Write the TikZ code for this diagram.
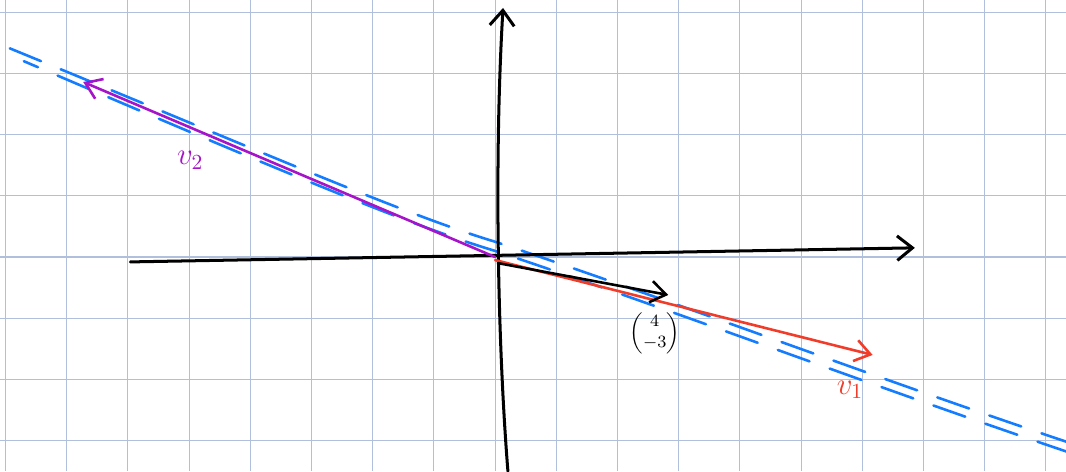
\documentclass[tikz,border=0pt]{standalone}
\usepackage{amsmath}
\usetikzlibrary{arrows.meta}

\definecolor{gridblue}{RGB}{176,192,220}
\definecolor{penblue}{RGB}{20,125,255}
\definecolor{penred}{RGB}{240,60,40}
\definecolor{penpurple}{RGB}{165,20,200}

\tikzset{
  gridline/.style={gridblue, line width=0.5pt},
  axisline/.style={black, line width=1.4pt, line cap=round, -{Straight Barb[length=2.5mm,width=4mm]}},
  vecline/.style={line width=1.2pt, line cap=round, -{Straight Barb[length=2.5mm,width=3.5mm]}},
  spanline/.style={penblue, line width=1.2pt, line cap=round, dash pattern=on 0.55cm off 0.35cm}
}

\begin{document}
\begin{tikzpicture}
    \useasboundingbox[fill=white] (-8.09,-3.5) rectangle (9.33,4.2);

    % Grid
    \draw[gridline] (-8.09,-3.5) grid (9.33,4.2);

    % Points
    \coordinate (O) at (0,0);
    \coordinate (xstart) at (-5.96,-0.08);
    \coordinate (xend) at (6.86,0.15);
    \coordinate (ystart) at (0.21,-3.5);
    \coordinate (yend) at (0.13,4.07);
    \coordinate (u) at (2.83,-0.62);
    \coordinate (v1) at (6.17,-1.6);
    \coordinate (v2) at (-6.73,2.86);

    % Span (dashed, two strokes)
    \draw[spanline] (-7.93,3.41) .. controls (-4,1.8) and (-1.5,0.7) .. (0,0.25)
                    .. controls (3,-0.75) and (6,-1.9) .. (9.4,-3.04);
    \draw[spanline, dash phase=0.3cm] (-7.7,3.2) .. controls (-4,1.62) and (-1.5,0.55) .. (0,0.1)
                    .. controls (3,-0.9) and (6,-2.05) .. (9.4,-3.2);

    % Axes
    \draw[axisline] (xstart) -- (xend);
    \draw[axisline] (ystart) .. controls (0.05,-1.5) and (-0.02,1.5) .. (yend);

    % Vectors
    \draw[vecline, penpurple] (O) -- (v2);
    \draw[vecline, penred] (0,-0.05) -- (v1);
    \draw[vecline, black] (0.05,-0.1) -- (u);

    % Labels
    \node[penpurple] (v2label) at (-4.98,1.58) {\Large$v_2$};
    \node[penred] (v1label) at (5.8,-2.17) {\Large$v_1$};
    \node (ulabel) at (2.61,-1.24) {\footnotesize$\begin{pmatrix}4\\-3\end{pmatrix}$};
\end{tikzpicture}
\end{document}
